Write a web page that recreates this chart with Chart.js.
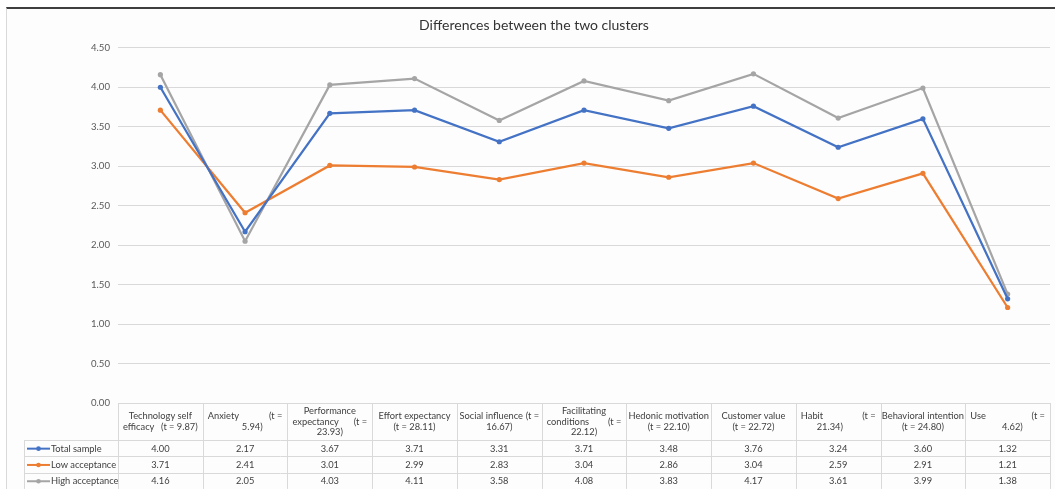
<!DOCTYPE html>
<html>
<head>
<meta charset="utf-8">
<script src="https://cdn.jsdelivr.net/npm/chart.js@4.4.1/dist/chart.umd.min.js"></script>
<style>
  html, body { margin: 0; padding: 0; background: #ffffff; }
  #wrap { position: relative; width: 1055px; height: 489px; overflow: hidden; }
  #frame { position: absolute; left: 6px; top: 7px; right: 0; bottom: 0;
           border-top: 2px solid #3f3f3f; border-left: 1px solid #d9d9d9; background: #fdfdfd; }
  #c { position: absolute; left: 0; top: 0; }
</style>
</head>
<body>
<div id="wrap">
  <div id="frame"></div>
  <canvas id="c" width="1055" height="489"></canvas>
</div>
<script>
// Constructs compared between the two clusters
const categories = [
  'Technology self efficacy', 'Anxiety', 'Performance expectancy', 'Effort expectancy',
  'Social influence', 'Facilitating conditions', 'Hedonic motivation', 'Customer value',
  'Habit', 'Behavioral intention', 'Use'
];

// Wrapped header text of the data table; a tab splits a line into left / right parts
const headerLines = [
  ['Technology self', 'efficacy\t(t = 9.87)'],
  ['Anxiety\t(t =', '      5.94)'],
  ['Performance', 'expectancy\t(t =', '23.93)'],
  ['Effort expectancy', '(t = 28.11)'],
  ['Social influence\t(t =', '16.67)'],
  ['Facilitating', 'conditions\t(t =', '22.12)'],
  ['Hedonic motivation', '(t = 22.10)'],
  ['Customer value', '(t = 22.72)'],
  ['Habit\t(t =', '21.34)       '],
  ['Behavioral intention', '(t = 24.80)'],
  ['Use\t(t =', '    4.62)']
];

const seriesNames = ['Total sample', 'Low acceptance', 'High acceptance'];
const totalSample    = [4.00, 2.17, 3.67, 3.71, 3.31, 3.71, 3.48, 3.76, 3.24, 3.60, 1.32];
const lowAcceptance  = [3.71, 2.41, 3.01, 2.99, 2.83, 3.04, 2.86, 3.04, 2.59, 2.91, 1.21];
const highAcceptance = [4.16, 2.05, 4.03, 4.11, 3.58, 4.08, 3.83, 4.17, 3.61, 3.99, 1.38];

const yMin = 0, yMax = 4.5, yStep = 0.5;
const seriesColors = ['#4472C4', '#ED7D31', '#A5A5A5'];

const FONT = 'Lato, "Open Sans", sans-serif';
const TEXT = '#404040';
const RULE = '#d9d9d9';

// Draws the data table (headers, legend keys and values) under the plot
const dataTable = {
  id: 'dataTable',
  afterDraw(chart) {
    const ctx = chart.ctx;
    const area = chart.chartArea;
    const n = chart.data.labels.length;
    const colW = (area.right - area.left) / n;
    const top = Math.round(chart.scales.y.getPixelForValue(0));
    const headH = 37, rowH = 16.3;
    const keyLeft = 24;
    const rows = chart.data.datasets.length;
    const bottom = top + headH + rows * rowH;

    ctx.save();
    ctx.strokeStyle = RULE;
    ctx.lineWidth = 1;
    ctx.beginPath();
    // header top border
    ctx.moveTo(area.left, top + 0.5);
    ctx.lineTo(area.right, top + 0.5);
    // row borders
    for (let r = 0; r <= rows; r++) {
      const y = Math.round(top + headH + r * rowH) + 0.5;
      ctx.moveTo(keyLeft, y);
      ctx.lineTo(area.right, y);
    }
    // column borders
    for (let i = 0; i <= n; i++) {
      const x = Math.round(area.left + i * colW) + 0.5;
      ctx.moveTo(x, top);
      ctx.lineTo(x, bottom);
    }
    ctx.moveTo(keyLeft + 0.5, top + headH);
    ctx.lineTo(keyLeft + 0.5, bottom);
    ctx.stroke();

    ctx.fillStyle = TEXT;
    ctx.font = '9.3px ' + FONT;
    ctx.textBaseline = 'middle';

    // header cells
    const lineH = 10.5;
    headerLines.forEach((lines, i) => {
      const l = area.left + i * colW, r = l + colW, c = l + colW / 2;
      const y0 = top + headH / 2 - (lines.length - 1) * lineH / 2;
      lines.forEach((line, k) => {
        const y = y0 + k * lineH;
        if (line.includes('\t')) {
          const [a, b] = line.split('\t');
          const free = colW - ctx.measureText(a).width - ctx.measureText(b).width;
          const pad = Math.max(1.5, Math.min(5, free / 3));
          ctx.textAlign = 'left';
          ctx.fillText(a, l + pad, y);
          ctx.textAlign = 'right';
          ctx.fillText(b, r - pad, y);
        } else {
          ctx.textAlign = 'center';
          ctx.fillText(line, c, y);
        }
      });
    });

    // value rows with legend keys
    chart.data.datasets.forEach((ds, r) => {
      const y = top + headH + r * rowH + rowH / 2 + 0.5;
      ctx.strokeStyle = ds.borderColor;
      ctx.lineWidth = 2;
      ctx.beginPath();
      ctx.moveTo(keyLeft + 3, y);
      ctx.lineTo(keyLeft + 26, y);
      ctx.stroke();
      ctx.fillStyle = ds.borderColor;
      ctx.beginPath();
      ctx.arc(keyLeft + 14.5, y, 2.3, 0, Math.PI * 2);
      ctx.fill();

      ctx.fillStyle = TEXT;
      ctx.textAlign = 'left';
      ctx.fillText(ds.label, keyLeft + 27, y);
      ctx.textAlign = 'center';
      ds.data.forEach((v, i) => {
        ctx.fillText(v.toFixed(2), area.left + i * colW + colW / 2, y);
      });
    });
    ctx.restore();
  }
};

const makeSeries = (label, data, color) => ({
  label, data,
  borderColor: color, backgroundColor: color,
  borderWidth: 2.25, pointRadius: 2.6, pointBorderWidth: 0,
  pointBackgroundColor: color, tension: 0
});

new Chart(document.getElementById('c'), {
  type: 'line',
  data: {
    labels: categories,
    datasets: [
      makeSeries(seriesNames[0], totalSample, seriesColors[0]),
      makeSeries(seriesNames[1], lowAcceptance, seriesColors[1]),
      makeSeries(seriesNames[2], highAcceptance, seriesColors[2])
    ]
  },
  options: {
    responsive: false,
    animation: false,
    layout: { padding: { left: 18, right: 5, top: 0, bottom: 86 } },
    plugins: {
      legend: { display: false },
      tooltip: { enabled: false },
      title: {
        display: true,
        text: 'Differences between the two clusters',
        color: '#333333',
        font: { family: FONT, size: 14, weight: 'normal' },
        padding: { top: 17, bottom: 14 }
      }
    },
    scales: {
      x: { type: 'category', offset: true, display: false },
      y: {
        min: yMin, max: yMax,
        border: { display: false },
        grid: { color: RULE, lineWidth: 1, drawTicks: false },
        ticks: {
          stepSize: yStep, padding: 8, color: '#595959',
          font: { family: FONT, size: 9.6 },
          callback: v => v.toFixed(2)
        },
        afterFit(scale) { scale.width = 100; }
      }
    }
  },
  plugins: [dataTable]
});
</script>
</body>
</html>
